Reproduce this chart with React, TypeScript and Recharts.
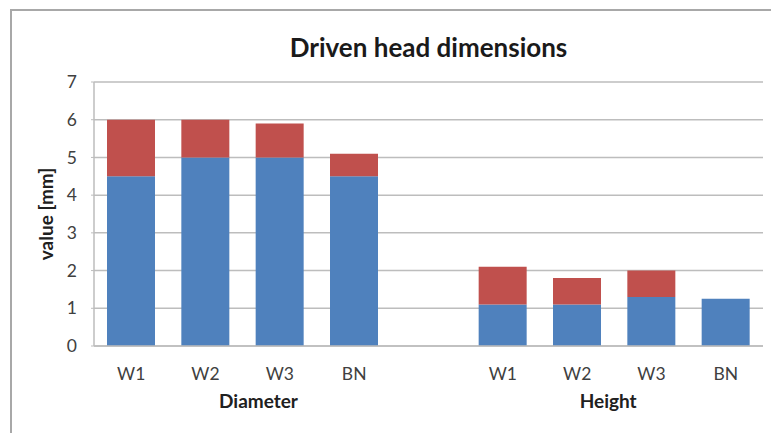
import React from 'react';
import { BarChart, Bar, XAxis, YAxis, CartesianGrid } from 'recharts';

const categories = ['W1', 'W2', 'W3', 'BN', '', 'W1', 'W2', 'W3', 'BN'];
const groupOf = ['Diameter', 'Diameter', 'Diameter', 'Diameter', '', 'Height', 'Height', 'Height', 'Height'];
const bottomValues = [4.5, 5.0, 5.0, 4.5, null, 1.1, 1.1, 1.3, 1.25];
const topValues = [1.5, 1.0, 0.9, 0.6, null, 1.0, 0.7, 0.7, 0];
const yTicks = [0, 1, 2, 3, 4, 5, 6, 7];
const groupLabels = [
  { name: 'Diameter', anchorIndex: 1, dx: 53 },
  { name: 'Height', anchorIndex: 6, dx: 31 },
];

const data = categories.map((c, i) => ({
  key: `k${i}`,
  label: c,
  group: groupOf[i],
  bottom: bottomValues[i],
  top: topValues[i],
}));

const FONT = 'Lato, "Open Sans", sans-serif';

const XTick = (props: any) => {
  const { x, y, payload, index } = props;
  const i = typeof index === 'number' ? index : data.findIndex((d) => d.key === payload.value);
  const d = data[i];
  const g = groupLabels.find((gl) => gl.anchorIndex === i);
  return (
    <g>
      <text x={x} y={y + 27} textAnchor="middle" dominantBaseline="central" fontSize={17.5} fill="#404040" fontFamily={FONT}>
        {d ? d.label : ''}
      </text>
      {g ? (
        <text x={x + g.dx} y={y + 54} textAnchor="middle" dominantBaseline="central" fontSize={19} fontWeight="bold" fill="#202020" fontFamily={FONT}>
          {g.name}
        </text>
      ) : null}
    </g>
  );
};

export default function App() {
  return (
    <div style={{ position: 'absolute', left: 0, top: 0, width: 771, height: 433, overflow: 'hidden', background: '#fff' }}>
      <div style={{ position: 'absolute', left: 10, top: 9, width: 800, height: 500, borderLeft: '2px solid #a8a8a8', borderTop: '2px solid #a8a8a8' }} />
      <div style={{ position: 'absolute', left: 94, width: 669, top: 30, textAlign: 'center', fontFamily: FONT, fontWeight: 'bold', fontSize: 26, color: '#1a1a1a', lineHeight: '34px' }}>
        Driven head dimensions
      </div>
      <div style={{ position: 'absolute', left: 0, top: 0 }}>
        <BarChart width={771} height={433} data={data} margin={{ top: 82, right: 8, bottom: 17, left: 0 }}>
          <CartesianGrid vertical={false} stroke="#bdbdbd" strokeWidth={1.5} />
          <XAxis
            dataKey="key"
            height={70}
            tickLine={false}
            tickSize={0}
            tickMargin={0}
            interval={0}
            axisLine={{ stroke: '#bdbdbd', strokeWidth: 1.5 }}
            tick={<XTick />}
          />
          <YAxis
            width={94}
            domain={[0, 7]}
            ticks={yTicks}
            interval={0}
            tickSize={3}
            tickMargin={14}
            tickLine={{ stroke: '#bdbdbd' }}
            axisLine={{ stroke: '#bdbdbd', strokeWidth: 1.5 }}
            tick={{ fontSize: 17.5, fill: '#404040', fontFamily: FONT }}
            label={{ value: 'value [mm]', angle: -90, position: 'insideLeft', offset: 46, style: { fontSize: 19, fontWeight: 'bold', fill: '#202020', fontFamily: FONT, textAnchor: 'middle' } }}
          />
          <Bar dataKey="bottom" stackId="a" fill="#4F81BD" barSize={48} isAnimationActive={false} />
          <Bar dataKey="top" stackId="a" fill="#C0504D" barSize={48} isAnimationActive={false} />
        </BarChart>
      </div>
    </div>
  );
}
